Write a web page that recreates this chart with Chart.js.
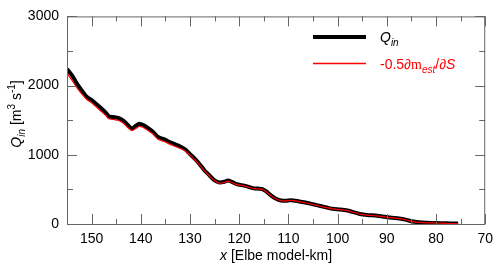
<!DOCTYPE html>
<html>
<head>
<meta charset="utf-8">
<script src="https://cdn.jsdelivr.net/npm/chart.js@4"></script>
<style>
  html, body { margin: 0; padding: 0; background: #fff; }
  #wrap { width: 500px; height: 271px; }
</style>
</head>
<body>
<div id="wrap"><canvas id="qin-chart" width="500" height="271"></canvas></div>
<script>
// ------------------------------------------------------------
// Data
// ------------------------------------------------------------

// Elbe model-km along the stream
const kmPoints = [
  155, 154, 153, 152, 151, 150, 149, 148, 147, 146.5, 145.5, 144.5, 143.5, 142.5,
  141.8, 141, 140.3, 139.5, 138.5, 137.5, 136.5, 135, 134, 133, 132, 131, 130,
  129, 128, 127, 126, 125, 124, 123, 122.3, 121.5, 120.5, 119, 118, 117, 116,
  115.3, 114.5, 113.5, 112.5, 111.5, 110.5, 109.5, 108, 106.5, 105, 103.5, 102,
  101, 99.5, 98, 97, 95.5, 94, 92, 90.5, 89, 87.5, 86, 85, 83.5, 82, 80, 78, 76, 75.5
];

// Q_in [m3 s-1]
const qInValues = [
  2240, 2150, 2030, 1930, 1840, 1790, 1730, 1670, 1600, 1555, 1545, 1530, 1490, 1420,
  1375, 1420, 1450, 1430, 1385, 1330, 1260, 1215, 1180, 1150, 1120, 1080, 1010,
  940, 860, 770, 700, 630, 600, 610, 630, 610, 575, 555, 535, 515, 510,
  505, 470, 410, 365, 340, 335, 345, 330, 310, 285, 260, 235,
  220, 210, 195, 175, 145, 130, 120, 105, 90, 80, 60, 40, 25, 18, 15, 10, 6, 5
];

// -0.5 dm_est/dS
const dmdsValues = [
  2180, 2080, 1970, 1880, 1800, 1750, 1690, 1625, 1560, 1520, 1510, 1495, 1455, 1385,
  1350, 1380, 1410, 1395, 1350, 1300, 1225, 1185, 1150, 1120, 1095, 1060, 995,
  925, 850, 760, 690, 625, 590, 600, 620, 600, 570, 550, 530, 512, 506,
  500, 465, 405, 362, 337, 332, 342, 327, 307, 282, 257, 232,
  218, 207, 192, 172, 143, 128, 118, 103, 88, 78, 58, 38, 24, 17, 14, 9, 5, 4
];

const xTickValues  = [150, 140, 130, 120, 110, 100, 90, 80, 70];
const xMinorValues = [155, 145, 135, 125, 115, 105, 95, 85, 75];
const yTickValues  = [0, 1000, 2000, 3000];
const yMinorValues = [500, 1500, 2500];

// ------------------------------------------------------------
// Helpers
// ------------------------------------------------------------

const BASE_FONT = '"Liberation Sans", Arial, Helvetica, sans-serif';

// draw text made of pieces (italic / sub / sup), left to right
function drawRich(ctx, parts, x, y, align, color) {
  const size = 14;
  const fontFor = p => {
    const s = (p.sub || p.sup) ? Math.round(size * 0.72) : size;
    const fam = p.serif ? '"Liberation Serif", "DejaVu Serif", serif' : BASE_FONT;
    return (p.italic ? 'italic ' : '') + s + 'px ' + fam;
  };
  let total = 0;
  parts.forEach(p => { ctx.font = fontFor(p); total += ctx.measureText(p.t).width; });
  let cx = align === 'center' ? x - total / 2 : x;
  ctx.fillStyle = color;
  ctx.textAlign = 'left';
  ctx.textBaseline = 'alphabetic';
  parts.forEach(p => {
    ctx.font = fontFor(p);
    const dy = p.sub ? 4 : p.sup ? -6 : 0;
    ctx.fillText(p.t, cx, y + dy);
    cx += ctx.measureText(p.t).width;
  });
}

// frame + inward ticks on every side, legend and axis titles
const frameAndDecor = {
  id: 'frameAndDecor',
  afterDraw(chart) {
    const ctx = chart.ctx;
    const a = chart.chartArea;
    const xs = chart.scales.x;
    const ys = chart.scales.y;

    ctx.save();
    ctx.strokeStyle = '#666';
    ctx.lineWidth = 1;
    ctx.strokeRect(a.left + 0.5, a.top + 0.5, a.right - a.left - 1, a.bottom - a.top);

    ctx.beginPath();
    const tickX = (v, len) => {
      const px = Math.round(xs.getPixelForValue(v)) + 0.5;
      ctx.moveTo(px, a.bottom); ctx.lineTo(px, a.bottom - len);
      ctx.moveTo(px, a.top);    ctx.lineTo(px, a.top + len);
    };
    const tickY = (v, len) => {
      const py = Math.round(ys.getPixelForValue(v)) + 0.5;
      ctx.moveTo(a.left, py);  ctx.lineTo(a.left + len, py);
      ctx.moveTo(a.right, py); ctx.lineTo(a.right - len, py);
    };
    xTickValues.forEach(v => tickX(v, 10));
    xMinorValues.forEach(v => tickX(v, 5));
    yTickValues.forEach(v => tickY(v, 10));
    yMinorValues.forEach(v => tickY(v, 6));
    ctx.stroke();

    // legend
    ctx.lineCap = 'butt';
    ctx.strokeStyle = '#000000';
    ctx.lineWidth = 4;
    ctx.beginPath(); ctx.moveTo(313, 37); ctx.lineTo(366, 37); ctx.stroke();
    ctx.strokeStyle = '#ff0000';
    ctx.lineWidth = 1.3;
    ctx.beginPath(); ctx.moveTo(313, 63.5); ctx.lineTo(366, 63.5); ctx.stroke();

    drawRich(ctx, [
      { t: 'Q', italic: true },
      { t: 'in', italic: true, sub: true }
    ], 380, 42, 'left', '#000');
    drawRich(ctx, [
      { t: '-0.5∂' },
      { t: 'm', serif: true },
      { t: 'est', italic: true, sub: true },
      { t: '/∂' },
      { t: 'S', italic: true }
    ], 380, 69, 'left', '#ff0000');

    // x title
    drawRich(ctx, [
      { t: 'x', italic: true },
      { t: ' [Elbe model-km]' }
    ], (a.left + a.right) / 2, 260, 'center', '#000');

    // y title
    ctx.translate(21, 114);
    ctx.rotate(-Math.PI / 2);
    drawRich(ctx, [
      { t: 'Q', italic: true },
      { t: 'in', italic: true, sub: true },
      { t: ' [m' },
      { t: '3', sup: true },
      { t: ' s' },
      { t: '-1', sup: true },
      { t: ']' }
    ], 0, 0, 'center', '#000');
    ctx.restore();
  }
};

// ------------------------------------------------------------
// Chart
// ------------------------------------------------------------

const toPoints = vals => kmPoints.map((km, i) => ({ x: km, y: vals[i] }));

new Chart(document.getElementById('qin-chart'), {
  type: 'line',
  data: {
    datasets: [
      {
        label: 'Q_in',
        data: toPoints(qInValues),
        borderColor: '#000',
        borderWidth: 4,
        pointRadius: 0,
        tension: 0.2,
        order: 2,
      },
      {
        label: '-0.5 dm_est/dS',
        data: toPoints(dmdsValues),
        borderColor: '#ff0000',
        borderWidth: 1.2,
        pointRadius: 0,
        tension: 0.2,
        order: 1,
      },
    ],
  },
  options: {
    responsive: false,
    animation: false,
    devicePixelRatio: 1,
    layout: { padding: { top: 11, right: 13, bottom: 0, left: 0 } },
    plugins: {
      legend: { display: false },
      tooltip: { enabled: false },
    },
    scales: {
      x: {
        type: 'linear',
        reverse: true,
        min: 70,
        max: 155,
        afterBuildTicks: s => { s.ticks = xTickValues.map(v => ({ value: v })); },
        afterFit: s => { s.height = 47; },
        ticks: {
          color: '#000', font: { size: 14, family: BASE_FONT }, padding: 7, maxRotation: 0,
          callback: v => String(v),
        },
        grid: { display: false, drawTicks: false },
        border: { display: false },
      },
      y: {
        min: 0,
        max: 3000,
        afterBuildTicks: s => { s.ticks = yTickValues.map(v => ({ value: v })); },
        afterFit: s => { s.width = 67; },
        ticks: {
          color: '#000', font: { size: 14, family: BASE_FONT }, padding: 8,
          callback: v => String(v),
        },
        grid: { display: false, drawTicks: false },
        border: { display: false },
      },
    },
  },
  plugins: [frameAndDecor],
});
</script>
</body>
</html>
